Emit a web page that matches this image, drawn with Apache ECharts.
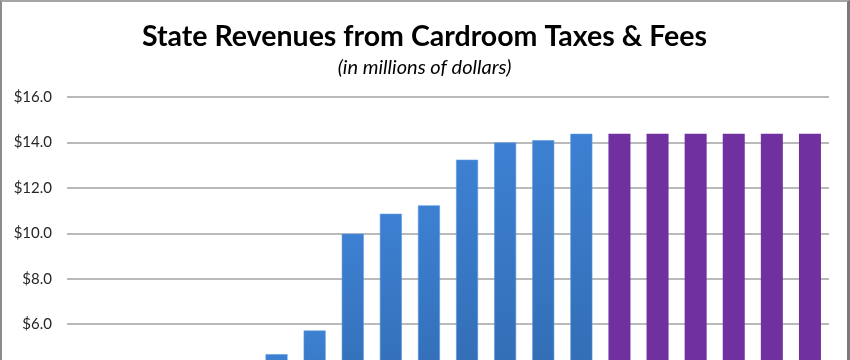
<!DOCTYPE html>
<html>
<head>
<meta charset="utf-8">
<script src="https://cdn.jsdelivr.net/npm/echarts@6/dist/echarts.min.js"></script>
<style>
html,body{margin:0;padding:0;background:#fff;overflow:hidden;}
#wrap{position:absolute;left:0;top:0;width:850px;height:520px;box-sizing:border-box;border-top:2px solid #a6a6a6;border-left:2px solid #8c8c8c;border-right:3px solid #7a7a7a;background:#fff;}
#chart{width:845px;height:518px;}
</style>
</head>
<body>
<div id="wrap"><div id="chart"></div></div>
<script>
// Fiscal-year categories (axis labels fall below the visible area)
const categories = ["1996-97","1997-98","1998-99","1999-00","2000-01","2001-02","2002-03","2003-04","2004-05","2005-06","2006-07","2007-08","2008-09","2009-10","2010-11","2011-12","2012-13","2013-14","2014-15","2015-16"];
// Actual revenues (blue), millions of dollars
const actualValues = [2.4, 2.8, 3.2, 3.6, 4.1, 4.68, 5.72, 9.98, 10.86, 11.23, 13.24, 14.0, 14.1, 14.38, null, null, null, null, null, null];
// Projected revenues (purple), millions of dollars
const projectedValues = [null, null, null, null, null, null, null, null, null, null, null, null, null, null, 14.38, 14.38, 14.38, 14.38, 14.38, 14.38];
const yTicks = [0, 2, 4, 6, 8, 10, 12, 14, 16];

const chart = echarts.init(document.getElementById('chart'), null, {renderer: 'canvas'});
chart.setOption({
  animation: false,
  backgroundColor: '#fff',
  title: {
    text: 'State Revenues from Cardroom Taxes & Fees',
    subtext: '(in millions of dollars)',
    left: 'center',
    top: 15,
    itemGap: 7,
    textStyle: {fontFamily: 'Lato', fontWeight: 'bold', fontSize: 28.5, color: '#000'},
    subtextStyle: {fontFamily: 'Lato', fontStyle: 'italic', fontSize: 20, color: '#000'}
  },
  grid: {left: 65, right: 18, top: 95, bottom: 59.5, containLabel: false},
  xAxis: {
    type: 'category',
    data: categories,
    axisTick: {show: false},
    axisLine: {lineStyle: {color: '#a0a0a0'}},
    axisLabel: {fontFamily: 'Lato', fontSize: 13, color: '#333'}
  },
  yAxis: {
    type: 'value',
    min: yTicks[0],
    max: yTicks[yTicks.length - 1],
    interval: 2,
    axisLine: {show: false},
    axisTick: {show: false},
    splitLine: {lineStyle: {color: '#a3a3a3', width: 1.5}},
    axisLabel: {
      fontFamily: 'Lato', fontSize: 15, color: '#262626', margin: 15,
      formatter: v => '$' + v.toFixed(1)
    }
  },
  series: [
    {
      type: 'bar',
      name: 'Actual',
      data: actualValues,
      barWidth: 22,
      barGap: '-100%',
      itemStyle: {
        color: new echarts.graphic.LinearGradient(0, 0, 0, 1, [
          {offset: 0, color: '#3d80d2'},
          {offset: 1, color: '#2f67aa'}
        ]),
        borderColor: '#5b9ae0',
        borderWidth: 0.6
      }
    },
    {
      type: 'bar',
      name: 'Projected',
      data: projectedValues,
      barWidth: 22,
      barGap: '-100%',
      itemStyle: {color: '#7030a0'}
    }
  ]
});
</script>
</body>
</html>
